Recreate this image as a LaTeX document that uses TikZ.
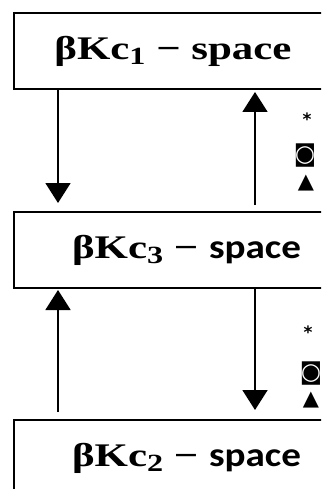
\documentclass[tikz,border=0pt]{standalone}
\usepackage{fontspec}
\usepackage{graphicx}
\setmainfont{Liberation Serif}
\newfontfamily\serifwide[FakeStretch=1.3]{Liberation Serif}
\newfontfamily\sanslabel[FakeStretch=1.15]{Carlito}
\newfontfamily\symfont{DejaVu Sans}
\usetikzlibrary{arrows.meta}
% lowered subscript digit of the space names
\newcommand\lowsub[1]{\raisebox{-0.35ex}{\scalebox{0.75}{#1}}}
\begin{document}
\begin{tikzpicture}[x=1pt,y=-1pt,line width=1.8pt,
  boxnode/.style={draw,line width=1.7pt,minimum height=76pt,inner sep=0pt,outer sep=0pt,anchor=west},
  arr/.style={-{Triangle[width=25pt,length=20pt]}},
  symb/.style={inner sep=0pt}]
\useasboundingbox (0,0) rectangle (321,489);
\clip (0,0) rectangle (321,489);
% the three spaces
\node[boxnode,minimum width=318pt] (top) at (14,51)
  {\raisebox{-2pt}{\fontsize{33}{40}\serifwide\bfseries βKc\lowsub{1} − space}};
\node[boxnode,minimum width=345pt] (mid) at (14,250)
  {\fontsize{33}{40}\serifwide\bfseries βKc\lowsub{3} − {\sanslabel\fontsize{34}{40}\selectfont space}};
\node[boxnode,minimum width=345pt] (bot) at (14,458)
  {\fontsize{33}{40}\serifwide\bfseries βKc\lowsub{2} − {\sanslabel\fontsize{34}{40}\selectfont space}};
% transitions between the spaces
\draw[arr,shorten >=9pt] ([xshift=44pt]top.south west) -- ([xshift=44pt]mid.north west);
\draw[arr,shorten <=7pt,shorten >=3pt] ([xshift=241pt]mid.north west) -- ([xshift=241pt]top.south west);
\draw[arr,shorten <=8pt,shorten >=2pt] ([xshift=44pt]bot.north west) -- ([xshift=44pt]mid.south west);
\draw[arr,shorten >=10pt] ([xshift=241pt]mid.south west) -- ([xshift=241pt]bot.north west);
% legend symbols beside the right-hand arrows
\node[symb,font=\symfont\bfseries\fontsize{17}{17}\selectfont] (s1) at (307,119) {*};
\node[symb,font=\symfont\fontsize{23}{23}\selectfont] (c1) at (305,156) {◙};
\node[symb,font=\symfont\fontsize{21}{21}\selectfont] (t1) at (306,183) {▲};
\node[symb,font=\symfont\bfseries\fontsize{17}{17}\selectfont] (s2) at (308,332) {*};
\node[symb,font=\symfont\fontsize{23}{23}\selectfont] (c2) at (311,374) {◙};
\node[symb,font=\symfont\fontsize{21}{21}\selectfont] (t2) at (311,400) {▲};
\end{tikzpicture}
\end{document}
